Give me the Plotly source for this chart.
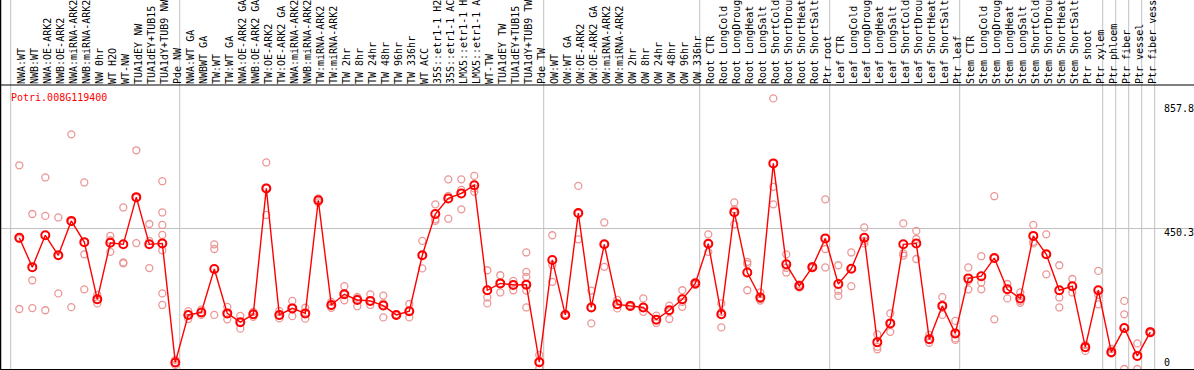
import plotly.graph_objects as go

W, H = 1194, 370

labels = [
    "NWA:WT", "NWB:WT", "NWA:OE-ARK2", "NWB:OE-ARK2", "NWA:miRNA-ARK2", "NWB:miRNA-ARK2",
    "NW 0hr", "WT H2O", "WT-NW", "TUA1dEY NW", "TUA1dEY+TUB15 NW", "TUA1dY+TUB9 NW", "Pde NW",
    "NWA:WT GA", "NWBWT GA", "TW:WT", "TW:WT GA", "NWA:OE-ARK2 GA", "NWB:OE-ARK2 GA",
    "TW:OE-ARK2", "TW:OE-ARK2 GA", "NWA:miRNA-ARK2", "NWB:miRNA-ARK2", "TW:miRNA-ARK2",
    "TW:miRNA-ARK2", "TW 2hr", "TW 8hr", "TW 24hr", "TW 48hr", "TW 96hr", "TW 336hr",
    "WT ACC", "35S::etr1-1 H2O", "35S::etr1-1 ACC", "LMX5::etr1-1 H2O", "LMX5::etr1-1 ACC",
    "WT-TW", "TUA1dEY TW", "TUA1dEY+TUB15 TW", "TUA1dY+TUB9 TW", "Pde TW",
    "OW:WT", "OW:WT GA", "OW:OE-ARK2", "OW:OE-ARK2 GA", "OW:miRNA-ARK2", "OW:miRNA-ARK2",
    "OW 2hr", "OW 8hr", "OW 24hr", "OW 48hr", "OW 96hr", "OW 336hr",
    "Root CTR", "Root LongCold", "Root LongDrought", "Root LongHeat", "Root LongSalt",
    "Root ShortCold", "Root ShortDrought", "Root ShortHeat", "Root ShortSalt", "Ptr root",
    "Leaf CTR", "Leaf LongCold", "Leaf LongDrought", "Leaf LongHeat", "Leaf LongSalt",
    "Leaf ShortCold", "Leaf ShortDrought", "Leaf ShortHeat", "Leaf ShortSalt", "Ptr leaf",
    "Stem CTR", "Stem LongCold", "Stem LongDrought", "Stem LongHeat", "Stem LongSalt",
    "Stem ShortCold", "Stem ShortDrought", "Stem ShortHeat", "Stem ShortSalt",
    "Ptr shoot", "Ptr xylem", "Ptr phloem", "Ptr fiber", "Ptr vessel", "Ptr fiber vessel",
]

means = [
    420, 326, 428, 364, 474, 406, 223, 404, 399, 550, 399, 402, 21,
    173, 181, 320, 178, 150, 175, 578, 173, 194, 178, 540, 205, 239, 221, 218, 203,
    173, 185, 364, 496, 546, 562, 588, 252, 274, 269, 270, 22,
    349, 173, 499, 197, 399, 207, 202, 197, 158, 188, 223, 274,
    401, 175, 502, 309, 229, 658, 335, 266, 326, 418,
    272, 321, 420, 86, 146, 399, 402, 95, 202, 114,
    290, 297, 355, 255, 226, 426, 367, 252, 265,
    70, 252, 54, 131, 42, 118,
]

replicates = [
    [652, 416, 192], [496, 284, 195], [613, 490, 188], [485, 364, 242], [751, 471, 198],
    [597, 367, 255], [237, 222, 210], [426, 412, 375], [517, 341, 338], [700, 548, 403],
    [464, 410, 323], [601, 501, 461, 429, 380, 242, 205], [29, 21, 13],
    [185, 173, 160], [190, 181, 173], [399, 384, 173], [199, 159, 176], [170, 150, 129],
    [183, 175, 167], [661, 493, 580], [186, 170, 162], [218, 196, 169], [196, 178, 161],
    [546, 540, 533], [215, 196, 203], [265, 237, 220], [231, 226, 201], [239, 218, 205],
    [235, 210, 165], [175, 173, 171], [208, 185, 165], [410, 364, 322], [527, 479, 474],
    [607, 554, 481], [607, 573, 511], [618, 578, 567], [316, 229, 210], [300, 274, 245],
    [282, 269, 252], [373, 311, 295, 270, 251, 197], [45, 22, 2],
    [428, 333, 279], [176, 173, 170], [586, 415, 497], [251, 197, 146], [469, 399, 327],
    [221, 207, 194], [205, 202, 199], [226, 183, 197], [171, 158, 147], [203, 188, 160],
    [252, 215, 199], [279, 274, 269],
    [431, 401, 375], [210, 183, 133], [533, 511, 463], [343, 336, 252], [245, 224, 219],
    [866, 583, 527], [367, 324, 309], [271, 266, 261], [329, 326, 323], [543, 384, 325],
    [332, 250, 234], [373, 321, 265], [453, 410, 402], [111, 71, 63], [178, 146, 119],
    [466, 370, 363], [442, 416, 352], [109, 95, 84], [230, 173, 202], [154, 98, 93],
    [325, 282, 255], [361, 277, 255], [553, 354, 159], [272, 226, 255], [245, 218, 212],
    [461, 407, 402], [431, 367, 303], [332, 229, 197], [288, 265, 245],
    [77, 70, 58], [314, 237, 207], [64, 54, 49], [218, 175, 0], [82, 0], [121, 118, 115],
]

title_text = "Potri.008G119400"
right_labels = ["857.8", "450.3", "0"]
grid_value = 450.3
group_breaks = [0, 13, 41, 53, 63, 73, 84, 85, 86, 87, 88]

# pixel geometry helpers
X0_PX, STEP_PX = 19.3, 13.0
def xv(px):
    return (px - X0_PX) / STEP_PX
def yp(py):
    return 1 - py / H

PLOT_TOP, PLOT_BOT = 85, 369
Y_SCALE = (PLOT_BOT - 228.3) / grid_value
y_top = (PLOT_BOT - PLOT_TOP) / Y_SCALE

xs = list(range(len(labels)))
rx, ry = [], []
for i, reps in enumerate(replicates):
    for v in reps:
        rx.append(i)
        ry.append(v)

fig = go.Figure()
fig.add_trace(go.Scatter(
    x=rx, y=ry, mode="markers",
    marker=dict(symbol="circle-open", size=7, color="rgb(236,150,150)",
                line=dict(width=1.3, color="rgb(236,150,150)")),
    hoverinfo="skip",
))
fig.add_trace(go.Scatter(
    x=xs, y=means, mode="lines+markers",
    line=dict(color="#ff0000", width=1.4),
    marker=dict(symbol="circle-open", size=8, color="#ff0000",
                line=dict(width=2, color="#ff0000")),
))

shapes = []
for j in group_breaks:
    xb = xv(10.7 + STEP_PX * j)
    shapes.append(dict(type="line", xref="x", yref="paper", x0=xb, x1=xb, y0=0, y1=1,
                       line=dict(color="#c0c0c0", width=1), layer="below"))
# borders
shapes.append(dict(type="line", xref="paper", yref="paper", x0=0, x1=1,
                   y0=yp(PLOT_TOP), y1=yp(PLOT_TOP), line=dict(color="black", width=1.2)))
shapes.append(dict(type="line", xref="paper", yref="paper", x0=0, x1=1,
                   y0=yp(PLOT_BOT + 0.5), y1=yp(PLOT_BOT + 0.5), line=dict(color="black", width=1.2)))
shapes.append(dict(type="line", xref="paper", yref="paper", x0=0.5 / W, x1=0.5 / W,
                   y0=0, y1=1, line=dict(color="black", width=1.5)))

mono = "DejaVu Sans Mono"
annotations = [
    dict(text=title_text, xref="paper", yref="paper", x=9.3 / W, y=yp(97.5),
         xanchor="left", yanchor="middle", showarrow=False,
         font=dict(family=mono, size=10, color="#ff0000")),
]
for txt, py in zip(right_labels, [108, 232.5, 362]):
    annotations.append(dict(text=txt, xref="paper", yref="paper", x=1162 / W, y=yp(py),
                            xanchor="left", yanchor="middle", showarrow=False,
                            font=dict(family=mono, size=10, color="black")))

fig.update_layout(
    width=W, height=H, margin=dict(l=0, r=0, t=0, b=0),
    paper_bgcolor="white", plot_bgcolor="white", showlegend=False,
    shapes=shapes, annotations=annotations,
    xaxis=dict(range=[xv(0), xv(W)], domain=[0, 1], side="top",
               tickmode="array", tickvals=xs, ticktext=labels, tickangle=-90,
               tickfont=dict(family=mono, size=10, color="black"), ticklabelshift=2,
               showgrid=False, zeroline=False, ticks="", showline=False, automargin=False),
    yaxis=dict(range=[0, y_top], domain=[yp(PLOT_BOT), yp(PLOT_TOP)],
               tickmode="array", tickvals=[grid_value], showticklabels=False,
               showgrid=True, gridcolor="#c0c0c0", gridwidth=1, zeroline=False,
               showline=False, automargin=False),
)

fig.write_html(
    "out.html",
    config={"displayModeBar": False},
    post_script="document.body.style.margin='0';document.body.style.padding='0';"
                "document.documentElement.style.overflow='hidden';",
)
